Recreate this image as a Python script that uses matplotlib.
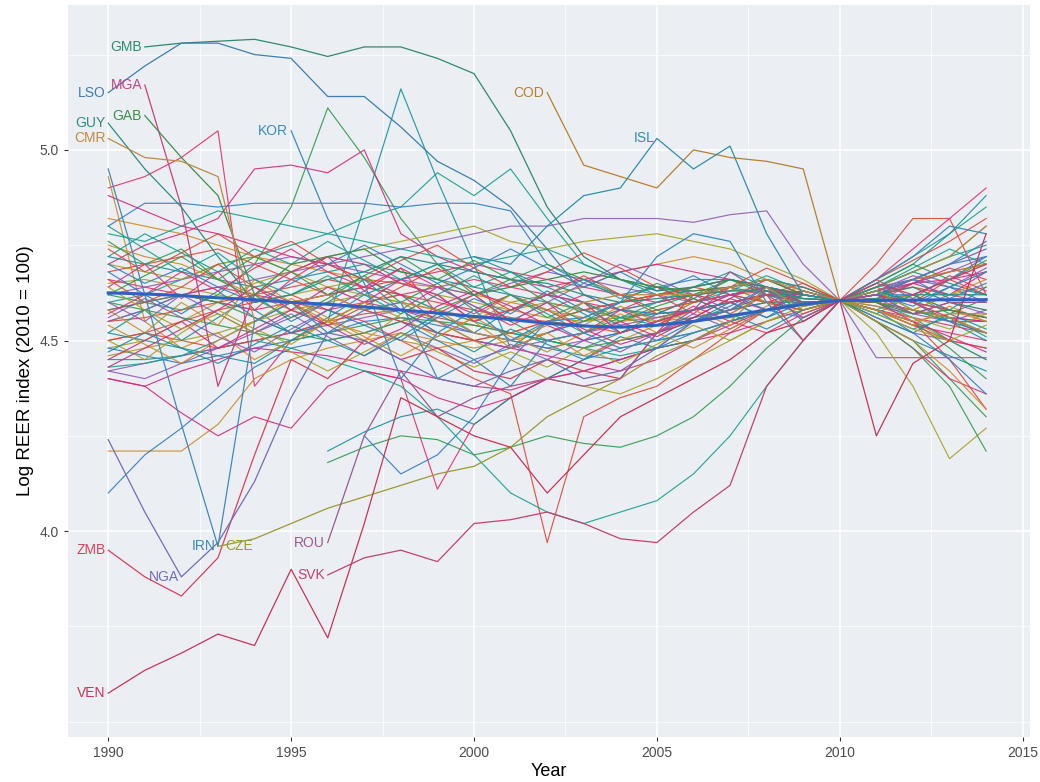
import numpy as np
import matplotlib.pyplot as plt
from matplotlib.ticker import MultipleLocator

nan = np.nan
years = list(range(1990, 2015))

# labelled countries (log REER, 1990-2014)
GMB = [nan, 5.27, 5.28, 5.285, 5.29, 5.27, 5.245, 5.27, 5.27, 5.24, 5.20, 5.05, 4.85, 4.72, 4.66, 4.63, 4.64, 4.66, 4.64, 4.62, 4.605, 4.62, 4.64, 4.60, 4.58]
LSO = [5.15, 5.22, 5.28, 5.28, 5.25, 5.24, 5.14, 5.14, 5.06, 4.97, 4.92, 4.85, 4.74, 4.62, 4.58, 4.57, 4.58, 4.60, 4.56, 4.60, 4.605, 4.63, 4.60, 4.55, 4.52]
MGA = [nan, 5.17, 4.85, 4.38, 4.62, 4.68, 4.72, 4.70, 4.65, 4.62, 4.55, 4.58, 4.62, 4.60, 4.52, 4.55, 4.58, 4.62, 4.64, 4.60, 4.605, 4.62, 4.60, 4.58, 4.56]
GAB = [nan, 5.09, 4.98, 4.88, 4.62, 4.70, 4.72, 4.74, 4.68, 4.66, 4.62, 4.64, 4.66, 4.68, 4.66, 4.64, 4.63, 4.64, 4.66, 4.62, 4.605, 4.60, 4.57, 4.58, 4.56]
GUY = [5.07, 4.95, 4.85, 4.72, 4.60, 4.62, 4.66, 4.68, 4.72, 4.70, 4.68, 4.66, 4.65, 4.62, 4.60, 4.61, 4.62, 4.63, 4.63, 4.61, 4.605, 4.61, 4.62, 4.62, 4.62]
CMR = [5.03, 4.98, 4.97, 4.93, 4.55, 4.60, 4.62, 4.58, 4.60, 4.58, 4.52, 4.50, 4.54, 4.60, 4.62, 4.62, 4.62, 4.64, 4.66, 4.63, 4.605, 4.58, 4.55, 4.57, 4.57]
KOR = [nan, nan, nan, nan, nan, 5.05, 4.82, 4.65, 4.40, 4.52, 4.58, 4.50, 4.55, 4.56, 4.60, 4.72, 4.78, 4.76, 4.60, 4.50, 4.605, 4.62, 4.62, 4.66, 4.72]
COD = [nan] * 12 + [5.15, 4.96, 4.93, 4.90, 5.00, 4.98, 4.97, 4.95, 4.605, 4.63, 4.66, 4.68, 4.70]
ISL = [nan] * 10 + [4.72, 4.70, 4.80, 4.88, 4.90, 5.03, 4.95, 5.01, 4.78, 4.62, 4.605, 4.63, 4.60, 4.64, 4.68]
ZMB = [3.95, 3.88, 3.83, 3.93, 4.20, 4.45, 4.40, 4.50, 4.45, 4.48, 4.42, 4.40, 4.45, 4.42, 4.40, 4.52, 4.62, 4.60, 4.62, 4.50, 4.605, 4.62, 4.60, 4.56, 4.52]
NGA = [4.24, 4.05, 3.88, 3.97, 4.13, 4.35, 4.52, 4.50, 4.45, 4.40, 4.38, 4.42, 4.45, 4.40, 4.42, 4.48, 4.55, 4.58, 4.64, 4.55, 4.605, 4.63, 4.66, 4.70, 4.74]
IRN = [4.95, 4.62, 4.28, 3.96, 4.55, 4.60, 4.52, 4.58, 4.60, 4.40, 4.45, 4.38, 4.50, 4.52, 4.48, 4.50, 4.52, 4.55, 4.58, 4.60, 4.605, 4.66, 4.72, 4.80, 4.78]
CZE = [nan] * 3 + [3.96, 3.98, 4.02, 4.06, 4.09, 4.12, 4.15, 4.17, 4.22, 4.30, 4.35, 4.40, 4.46, 4.50, 4.55, 4.64, 4.58, 4.605, 4.63, 4.58, 4.56, 4.52]
ROU = [nan] * 6 + [3.97, 4.25, 4.42, 4.30, 4.35, 4.38, 4.40, 4.38, 4.40, 4.52, 4.58, 4.68, 4.62, 4.56, 4.605, 4.62, 4.57, 4.60, 4.60]
SVK = [nan] * 6 + [3.885, 3.93, 3.95, 3.92, 4.02, 4.03, 4.05, 4.02, 3.98, 3.97, 4.05, 4.12, 4.38, 4.50, 4.605, 4.65, 4.62, 4.66, 4.70]
VEN = [3.575, 3.635, 3.68, 3.73, 3.70, 3.90, 3.72, 4.02, 4.35, 4.30, 4.25, 4.22, 4.10, 4.20, 4.30, 4.35, 4.40, 4.45, 4.52, 4.55, 4.605, 4.25, 4.44, 4.50, 4.78]

# the other (unlabelled) countries
s01 = [4.90, 4.93, 4.98, 5.05, 4.38, 4.50, 4.55, 4.60, 4.58, 4.52, 4.50, 4.48, 4.52, 4.56, 4.60, 4.62, 4.63, 4.64, 4.66, 4.62, 4.605, 4.58, 4.54, 4.52, 4.50]
s02 = [4.55, 4.58, 4.62, 4.60, 4.58, 4.52, 4.55, 4.85, 5.16, 4.92, 4.70, 4.48, 4.55, 4.58, 4.60, 4.62, 4.64, 4.66, 4.63, 4.60, 4.605, 4.60, 4.58, 4.55, 4.50]
s03 = [4.62, 4.60, 4.58, 4.62, 4.70, 4.85, 5.11, 4.98, 4.82, 4.70, 4.62, 4.55, 4.50, 4.48, 4.52, 4.55, 4.60, 4.62, 4.60, 4.58, 4.605, 4.55, 4.50, 4.40, 4.30]
s04 = [4.93, 4.55, 4.48, 4.52, 4.45, 4.50, 4.55, 4.60, 4.62, 4.58, 4.55, 4.60, 4.62, 4.64, 4.68, 4.70, 4.72, 4.70, 4.66, 4.62, 4.605, 4.60, 4.62, 4.66, 4.70]
s05 = [4.80, 4.86, 4.86, 4.85, 4.86, 4.86, 4.86, 4.86, 4.85, 4.86, 4.86, 4.84, 4.70, 4.65, 4.62, 4.64, 4.66, 4.66, 4.64, 4.62, 4.605, 4.64, 4.66, 4.64, 4.62]
s06 = [4.70, 4.75, 4.78, 4.82, 4.95, 4.96, 4.94, 5.00, 4.78, 4.72, 4.68, 4.66, 4.64, 4.66, 4.68, 4.70, 4.68, 4.66, 4.64, 4.62, 4.605, 4.64, 4.68, 4.72, 4.80]
s07 = [4.60, 4.62, 4.66, 4.70, 4.72, 4.75, 4.78, 4.82, 4.85, 4.94, 4.88, 4.95, 4.82, 4.70, 4.66, 4.62, 4.64, 4.66, 4.64, 4.62, 4.605, 4.66, 4.72, 4.78, 4.85]
s08 = [4.55, 4.58, 4.62, 4.64, 4.66, 4.68, 4.70, 4.72, 4.74, 4.76, 4.78, 4.80, 4.80, 4.82, 4.82, 4.82, 4.81, 4.83, 4.84, 4.70, 4.605, 4.56, 4.52, 4.50, 4.48]
s09 = [4.48, 4.50, 4.55, 4.60, 4.65, 4.68, 4.72, 4.74, 4.76, 4.78, 4.80, 4.76, 4.74, 4.76, 4.77, 4.78, 4.76, 4.74, 4.70, 4.66, 4.605, 4.58, 4.55, 4.50, 4.45]
s10 = [4.50, 4.52, 4.55, 4.58, 4.60, 4.62, 4.58, 4.55, 4.50, 4.45, 4.40, 4.36, 3.97, 4.30, 4.35, 4.38, 4.45, 4.52, 4.58, 4.60, 4.605, 4.58, 4.55, 4.45, 4.32]
s11 = [nan] * 7 + [4.42, 4.40, 4.11, 4.28, 4.35, 4.40, 4.45, 4.50, 4.52, 4.55, 4.58, 4.60, 4.58, 4.605, 4.55, 4.48, 4.40, 4.36]
s12 = [nan] * 6 + [4.21, 4.26, 4.30, 4.32, 4.28, 4.35, 4.40, 4.45, 4.48, 4.50, 4.52, 4.55, 4.58, 4.60, 4.605, 4.55, 4.50, 4.46, 4.42]
s13 = [nan] * 6 + [4.18, 4.22, 4.25, 4.24, 4.20, 4.22, 4.25, 4.23, 4.22, 4.25, 4.30, 4.38, 4.48, 4.56, 4.605, 4.58, 4.55, 4.48, 4.40]
s14 = [4.21, 4.21, 4.21, 4.28, 4.40, 4.45, 4.48, 4.50, 4.52, 4.50, 4.48, 4.50, 4.52, 4.55, 4.58, 4.60, 4.62, 4.63, 4.64, 4.60, 4.605, 4.62, 4.65, 4.68, 4.70]
s15 = [4.10, 4.20, 4.27, 4.35, 4.43, 4.48, 4.50, 4.52, 4.55, 4.50, 4.45, 4.48, 4.52, 4.55, 4.58, 4.60, 4.62, 4.64, 4.62, 4.60, 4.605, 4.63, 4.66, 4.70, 4.76]
s16 = [4.40, 4.38, 4.31, 4.25, 4.30, 4.27, 4.38, 4.42, 4.40, 4.35, 4.32, 4.35, 4.40, 4.42, 4.45, 4.48, 4.50, 4.52, 4.55, 4.58, 4.605, 4.60, 4.58, 4.56, 4.55]
s17 = [4.45, 4.45, 4.46, 4.48, 4.50, 4.48, 4.45, 4.42, 4.38, 4.30, 4.20, 4.10, 4.05, 4.02, 4.05, 4.08, 4.15, 4.25, 4.38, 4.50, 4.605, 4.60, 4.58, 4.55, 4.55]
s18 = [4.42, 4.44, 4.46, 4.48, 4.50, 4.52, 4.54, 4.56, 4.58, 4.55, 4.52, 4.50, 4.48, 4.50, 4.52, 4.55, 4.58, 4.60, 4.62, 4.62, 4.605, 4.455, 4.455, 4.455, 4.455]
s19 = [4.65, 4.66, 4.64, 4.62, 4.60, 4.62, 4.64, 4.66, 4.65, 4.62, 4.60, 4.58, 4.56, 4.55, 4.56, 4.58, 4.60, 4.62, 4.64, 4.62, 4.605, 4.52, 4.38, 4.19, 4.27]
s20 = [4.50, 4.52, 4.50, 4.48, 4.50, 4.52, 4.55, 4.57, 4.58, 4.56, 4.54, 4.52, 4.50, 4.52, 4.55, 4.58, 4.60, 4.62, 4.63, 4.62, 4.605, 4.70, 4.82, 4.82, 4.62]
s21 = [4.58, 4.60, 4.62, 4.64, 4.62, 4.60, 4.58, 4.60, 4.62, 4.64, 4.66, 4.64, 4.62, 4.60, 4.58, 4.56, 4.58, 4.60, 4.62, 4.60, 4.605, 4.66, 4.74, 4.82, 4.90]
s22 = [4.72, 4.70, 4.68, 4.66, 4.64, 4.66, 4.68, 4.70, 4.68, 4.66, 4.64, 4.62, 4.60, 4.58, 4.56, 4.57, 4.58, 4.60, 4.62, 4.61, 4.605, 4.65, 4.70, 4.78, 4.88]
s23 = [4.60, 4.58, 4.56, 4.54, 4.52, 4.50, 4.52, 4.54, 4.56, 4.55, 4.54, 4.52, 4.50, 4.48, 4.50, 4.52, 4.55, 4.58, 4.62, 4.63, 4.605, 4.55, 4.48, 4.38, 4.21]
s24 = [4.82, 4.80, 4.78, 4.75, 4.72, 4.70, 4.68, 4.66, 4.65, 4.64, 4.62, 4.60, 4.58, 4.56, 4.55, 4.56, 4.58, 4.60, 4.62, 4.64, 4.605, 4.55, 4.50, 4.42, 4.32]
s25 = [4.48, 4.46, 4.44, 4.46, 4.48, 4.50, 4.52, 4.55, 4.56, 4.54, 4.52, 4.50, 4.48, 4.46, 4.45, 4.48, 4.52, 4.55, 4.58, 4.60, 4.605, 4.58, 4.52, 4.45, 4.36]
s26 = [4.40, 4.38, 4.42, 4.45, 4.48, 4.47, 4.46, 4.44, 4.42, 4.40, 4.38, 4.37, 4.40, 4.42, 4.45, 4.48, 4.50, 4.54, 4.58, 4.62, 4.605, 4.60, 4.58, 4.56, 4.55]
s27 = [4.43, 4.44, 4.46, 4.50, 4.55, 4.60, 4.62, 4.64, 4.62, 4.58, 4.55, 4.52, 4.50, 4.48, 4.46, 4.48, 4.50, 4.55, 4.58, 4.60, 4.605, 4.64, 4.68, 4.72, 4.75]
s28 = [4.62, 4.64, 4.66, 4.68, 4.70, 4.72, 4.70, 4.68, 4.66, 4.64, 4.62, 4.65, 4.68, 4.66, 4.64, 4.62, 4.60, 4.62, 4.64, 4.62, 4.605, 4.62, 4.65, 4.68, 4.72]
s29 = [4.70, 4.68, 4.66, 4.70, 4.72, 4.68, 4.64, 4.62, 4.60, 4.58, 4.56, 4.58, 4.60, 4.58, 4.56, 4.55, 4.56, 4.58, 4.60, 4.61, 4.605, 4.60, 4.58, 4.62, 4.64]
s30 = [4.55, 4.56, 4.58, 4.60, 4.62, 4.64, 4.66, 4.64, 4.62, 4.60, 4.58, 4.56, 4.55, 4.54, 4.52, 4.55, 4.58, 4.60, 4.62, 4.63, 4.605, 4.62, 4.64, 4.62, 4.60]
s31 = [4.66, 4.64, 4.62, 4.60, 4.58, 4.60, 4.62, 4.64, 4.66, 4.68, 4.70, 4.68, 4.66, 4.64, 4.62, 4.60, 4.62, 4.64, 4.66, 4.64, 4.605, 4.58, 4.56, 4.54, 4.52]
s32 = [4.52, 4.50, 4.48, 4.46, 4.44, 4.50, 4.56, 4.62, 4.66, 4.70, 4.72, 4.68, 4.64, 4.60, 4.56, 4.54, 4.56, 4.58, 4.60, 4.60, 4.605, 4.64, 4.68, 4.65, 4.62]
s33 = [4.58, 4.60, 4.62, 4.60, 4.56, 4.52, 4.50, 4.52, 4.55, 4.58, 4.62, 4.66, 4.70, 4.66, 4.62, 4.58, 4.55, 4.56, 4.58, 4.60, 4.605, 4.63, 4.60, 4.58, 4.56]
s34 = [4.75, 4.72, 4.70, 4.66, 4.62, 4.58, 4.55, 4.52, 4.50, 4.48, 4.50, 4.52, 4.55, 4.58, 4.60, 4.62, 4.64, 4.66, 4.64, 4.62, 4.605, 4.60, 4.62, 4.58, 4.55]
s35 = [nan] * 7 + [4.25, 4.15, 4.20, 4.30, 4.45, 4.55, 4.50, 4.52, 4.55, 4.58, 4.62, 4.64, 4.62, 4.605, 4.62, 4.66, 4.70, 4.72]
s36 = [4.88, 4.84, 4.80, 4.78, 4.75, 4.72, 4.70, 4.66, 4.62, 4.55, 4.50, 4.48, 4.46, 4.44, 4.42, 4.45, 4.50, 4.55, 4.58, 4.60, 4.605, 4.63, 4.65, 4.66, 4.68]
s37 = [4.78, 4.76, 4.80, 4.84, 4.82, 4.80, 4.78, 4.76, 4.74, 4.72, 4.70, 4.72, 4.74, 4.70, 4.66, 4.64, 4.62, 4.64, 4.66, 4.64, 4.605, 4.60, 4.56, 4.50, 4.45]
s38 = [4.42, 4.40, 4.44, 4.48, 4.52, 4.56, 4.60, 4.58, 4.55, 4.52, 4.50, 4.48, 4.50, 4.52, 4.54, 4.56, 4.58, 4.60, 4.62, 4.62, 4.605, 4.59, 4.57, 4.55, 4.58]
s39 = [4.46, 4.48, 4.50, 4.52, 4.55, 4.58, 4.60, 4.62, 4.60, 4.55, 4.50, 4.45, 4.40, 4.38, 4.36, 4.40, 4.45, 4.50, 4.55, 4.58, 4.605, 4.64, 4.68, 4.72, 4.80]
s40 = [4.68, 4.70, 4.72, 4.74, 4.70, 4.66, 4.62, 4.58, 4.55, 4.52, 4.50, 4.52, 4.55, 4.58, 4.60, 4.62, 4.64, 4.62, 4.60, 4.58, 4.605, 4.58, 4.54, 4.50, 4.48]
s41 = [4.64, 4.70, 4.61, 4.68, 4.58, 4.66, 4.72, 4.63, 4.69, 4.57, 4.62, 4.55, 4.60, 4.52, 4.58, 4.62, 4.57, 4.64, 4.60, 4.63, 4.605, 4.66, 4.61, 4.67, 4.63]
s42 = [4.52, 4.58, 4.50, 4.56, 4.62, 4.55, 4.60, 4.66, 4.58, 4.52, 4.47, 4.53, 4.49, 4.45, 4.51, 4.48, 4.55, 4.60, 4.56, 4.62, 4.605, 4.57, 4.62, 4.58, 4.64]
s43 = [4.76, 4.70, 4.74, 4.66, 4.72, 4.68, 4.62, 4.67, 4.60, 4.65, 4.58, 4.62, 4.56, 4.60, 4.55, 4.59, 4.62, 4.66, 4.63, 4.60, 4.605, 4.65, 4.70, 4.66, 4.71]
s44 = [4.58, 4.52, 4.60, 4.54, 4.66, 4.60, 4.55, 4.50, 4.57, 4.62, 4.55, 4.48, 4.52, 4.46, 4.50, 4.54, 4.58, 4.54, 4.59, 4.62, 4.605, 4.58, 4.54, 4.59, 4.55]
s45 = [4.68, 4.62, 4.57, 4.63, 4.56, 4.52, 4.58, 4.54, 4.50, 4.56, 4.61, 4.57, 4.63, 4.58, 4.54, 4.50, 4.55, 4.59, 4.64, 4.61, 4.605, 4.62, 4.59, 4.64, 4.60]
s46 = [4.45, 4.50, 4.55, 4.48, 4.53, 4.58, 4.64, 4.60, 4.66, 4.61, 4.57, 4.62, 4.58, 4.53, 4.49, 4.52, 4.56, 4.61, 4.58, 4.63, 4.605, 4.60, 4.65, 4.62, 4.68]
s47 = [4.72, 4.78, 4.73, 4.68, 4.74, 4.70, 4.76, 4.71, 4.66, 4.70, 4.64, 4.68, 4.62, 4.66, 4.61, 4.64, 4.60, 4.63, 4.67, 4.63, 4.605, 4.57, 4.53, 4.56, 4.51]
s48 = [4.60, 4.55, 4.62, 4.57, 4.52, 4.57, 4.51, 4.46, 4.52, 4.48, 4.44, 4.49, 4.45, 4.50, 4.47, 4.52, 4.57, 4.53, 4.58, 4.56, 4.605, 4.63, 4.67, 4.64, 4.69]
s49 = [4.50, 4.45, 4.52, 4.58, 4.53, 4.49, 4.55, 4.60, 4.56, 4.51, 4.56, 4.62, 4.58, 4.54, 4.59, 4.55, 4.60, 4.64, 4.60, 4.57, 4.605, 4.59, 4.56, 4.53, 4.57]
s50 = [4.66, 4.60, 4.64, 4.70, 4.64, 4.60, 4.54, 4.59, 4.64, 4.69, 4.63, 4.58, 4.62, 4.67, 4.62, 4.57, 4.61, 4.57, 4.62, 4.65, 4.605, 4.64, 4.60, 4.66, 4.62]
s51 = [4.57, 4.62, 4.68, 4.63, 4.69, 4.74, 4.68, 4.64, 4.69, 4.64, 4.59, 4.54, 4.58, 4.62, 4.58, 4.54, 4.59, 4.55, 4.52, 4.57, 4.605, 4.61, 4.65, 4.69, 4.66]
s52 = [4.47, 4.52, 4.48, 4.44, 4.49, 4.54, 4.50, 4.46, 4.51, 4.57, 4.52, 4.58, 4.62, 4.57, 4.52, 4.57, 4.61, 4.57, 4.53, 4.58, 4.605, 4.56, 4.52, 4.57, 4.53]
s53 = [4.62, 4.67, 4.72, 4.66, 4.61, 4.56, 4.61, 4.67, 4.72, 4.66, 4.71, 4.66, 4.60, 4.55, 4.60, 4.65, 4.61, 4.66, 4.62, 4.59, 4.605, 4.58, 4.62, 4.57, 4.61]
s54 = [4.54, 4.49, 4.44, 4.50, 4.55, 4.61, 4.56, 4.51, 4.46, 4.51, 4.56, 4.51, 4.47, 4.52, 4.57, 4.52, 4.48, 4.53, 4.58, 4.62, 4.605, 4.63, 4.58, 4.62, 4.66]
s55 = [4.70, 4.65, 4.69, 4.64, 4.60, 4.65, 4.70, 4.75, 4.70, 4.65, 4.69, 4.74, 4.69, 4.64, 4.68, 4.63, 4.67, 4.62, 4.58, 4.62, 4.605, 4.62, 4.66, 4.61, 4.65]
s56 = [4.43, 4.48, 4.53, 4.58, 4.64, 4.58, 4.54, 4.49, 4.53, 4.59, 4.63, 4.59, 4.54, 4.50, 4.55, 4.51, 4.56, 4.61, 4.66, 4.62, 4.605, 4.60, 4.55, 4.51, 4.47]
s57 = [4.80, 4.74, 4.68, 4.73, 4.66, 4.62, 4.67, 4.62, 4.57, 4.62, 4.67, 4.62, 4.57, 4.52, 4.56, 4.60, 4.64, 4.68, 4.64, 4.60, 4.605, 4.64, 4.69, 4.74, 4.70]
s58 = [4.56, 4.61, 4.56, 4.51, 4.47, 4.53, 4.58, 4.63, 4.58, 4.64, 4.59, 4.55, 4.60, 4.65, 4.70, 4.66, 4.62, 4.58, 4.63, 4.59, 4.605, 4.61, 4.57, 4.60, 4.57]
s59 = [4.64, 4.58, 4.53, 4.57, 4.52, 4.47, 4.42, 4.47, 4.52, 4.47, 4.43, 4.47, 4.43, 4.48, 4.44, 4.49, 4.54, 4.50, 4.55, 4.59, 4.605, 4.57, 4.53, 4.50, 4.54]
s60 = [4.74, 4.68, 4.73, 4.78, 4.72, 4.76, 4.70, 4.66, 4.71, 4.75, 4.69, 4.64, 4.68, 4.73, 4.69, 4.64, 4.60, 4.64, 4.69, 4.65, 4.605, 4.66, 4.71, 4.76, 4.82]

# smoothed average (thick blue)
avg = [4.625, 4.622, 4.618, 4.612, 4.607, 4.600, 4.595, 4.588, 4.580, 4.572, 4.563, 4.555, 4.545, 4.538, 4.535, 4.540, 4.550, 4.565, 4.580, 4.595, 4.605, 4.605, 4.606, 4.607, 4.607]

labelled = {
    "GMB": (GMB, "#2e8a6e", 1991), "LSO": (LSO, "#3a80b0", 1990),
    "MGA": (MGA, "#c8407e", 1991), "GUY": (GUY, "#2a8f80", 1990),
    "GAB": (GAB, "#3f8f4a", 1991), "CMR": (CMR, "#c08a40", 1990),
    "KOR": (KOR, "#3a8cc0", 1995), "COD": (COD, "#b8802a", 2002),
    "ISL": (ISL, "#2f90a8", 2005), "ZMB": (ZMB, "#d9405a", 1990),
    "NGA": (NGA, "#6e6eb8", 1992), "IRN": (IRN, "#3f8ab8", 1993),
    "CZE": (CZE, "#9a9a30", 1993), "ROU": (ROU, "#9a5a90", 1996),
    "SVK": (SVK, "#c84070", 1996), "VEN": (VEN, "#cc3355", 1990),
}
others = [s01, s02, s03, s04, s05, s06, s07, s08, s09, s10, s11, s12, s13, s14, s15, s16, s17, s18, s19, s20,
          s21, s22, s23, s24, s25, s26, s27, s28, s29, s30, s31, s32, s33, s34, s35, s36, s37, s38, s39, s40,
          s41, s42, s43, s44, s45, s46, s47, s48, s49, s50, s51, s52, s53, s54, s55, s56, s57, s58, s59, s60]
cycle = ["#e6306e", "#15909a", "#2f9a4a", "#d08a20", "#2d7cc8", "#d8287c", "#14a08c", "#8e5ab4", "#a8a020", "#e04638"]

plt.rcParams['font.family'] = ['Liberation Sans', 'DejaVu Sans']
fig = plt.figure(figsize=(10.4, 7.82), dpi=100)
ax = fig.add_axes([68/1040, 45/782, 962/1040, 732/782])
ax.set_facecolor("#ebeff4")

for i, s in enumerate(others):
    ax.plot(years, s, color=cycle[i % len(cycle)], lw=0.85, alpha=0.9)

for name, (s, c, yr) in labelled.items():
    ax.plot(years, s, color=c, lw=0.9)
    v = s[years.index(yr)]
    if name == "CZE":
        ax.annotate(name, (yr, v), xytext=(5, 0), textcoords="offset points",
                    ha="left", va="center", fontsize=10, color=c)
    else:
        ax.annotate(name, (yr, v), xytext=(-2, 0), textcoords="offset points",
                    ha="right", va="center", fontsize=10, color=c)

ax.plot(years, avg, color="#2f62c0", lw=2.2)

ax.set_xlim(1988.9, 2015.2)
ax.set_ylim(3.46, 5.38)
ax.set_xticks([1990, 1995, 2000, 2005, 2010, 2015])
ax.set_yticks([4.0, 4.5, 5.0])
ax.set_yticklabels(["4.0", "4.5", "5.0"])
ax.xaxis.set_minor_locator(MultipleLocator(2.5))
ax.yaxis.set_minor_locator(MultipleLocator(0.25))
ax.grid(which="major", color="white", lw=1.1)
ax.grid(which="minor", color="white", lw=0.5)
ax.set_axisbelow(True)
for sp in ax.spines.values():
    sp.set_visible(False)
ax.tick_params(which="major", length=3, color="#333333", labelsize=10, labelcolor="#4d4d4d")
ax.tick_params(which="minor", length=0)
ax.set_xlabel("Year", fontsize=13, labelpad=2)
ax.set_ylabel("Log REER index (2010 = 100)", fontsize=13.5)

fig.savefig("out.png", dpi=100, facecolor="white")
